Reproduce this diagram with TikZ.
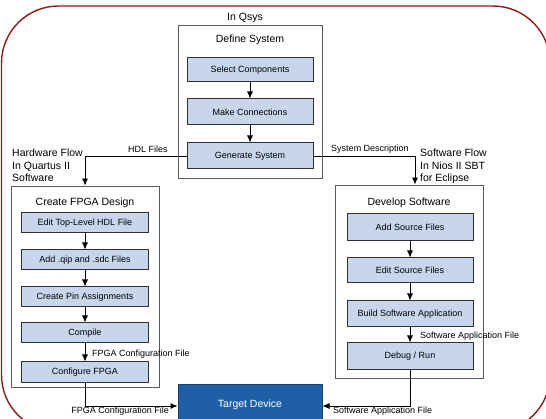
\documentclass[tikz,border=0pt]{standalone}
\usepackage{fontspec}
\setmainfont{Liberation Sans}
\usetikzlibrary{arrows.meta}
\definecolor{boxblue}{HTML}{C8D6EC}
\definecolor{boxline}{HTML}{2E2E2E}
\definecolor{outerline}{HTML}{5A5A5A}
\definecolor{framered}{HTML}{8E1B1B}
\definecolor{targetblue}{HTML}{1F5FA6}
\definecolor{targetline}{HTML}{174273}
\tikzset{
  inbox/.style={draw=boxline, fill=boxblue, line width=1pt, inner sep=0pt,
    minimum width=126pt, font=\fontsize{9}{11}\selectfont},
  outerbox/.style={draw=outerline, fill=white, line width=0.9pt, inner sep=0pt},
  head/.style={font=\fontsize{10.5}{12.5}\selectfont, inner sep=0pt},
  lbl/.style={font=\fontsize{9}{11}\selectfont, inner sep=0pt},
  side/.style={font=\fontsize{10.5}{12.8}\selectfont, inner sep=0pt, align=left, anchor=north west},
  arr/.style={draw=black, line width=0.8pt, -{Latex[length=7pt,width=6pt]}},
}
\begin{document}
\begin{tikzpicture}[x=1pt,y=-1pt]
\useasboundingbox (0,0) rectangle (546,419);
\fill[white] (0,0) rectangle (546,419);
\draw[framered, line width=1.4pt, rounded corners=57pt] (1.5,6) rectangle (550,432);

% outer boxes
\node[outerbox, minimum width=144pt, minimum height=153pt] (def) at (250,101.5) {};
\node[outerbox, minimum width=148pt, minimum height=201pt] (hw) at (85,286.5) {};
\node[outerbox, minimum width=148pt, minimum height=193pt] (sw) at (409,281.5) {};

% headings
\node[head] (qsys) at (245,18) {In Qsys};
\node[head] (defh) at (250,40) {Define System};
\node[head] (hwh) at (85,203) {Create FPGA Design};
\node[head] (swh) at (409,203) {Develop Software};

% Qsys boxes
\node[inbox, minimum height=24pt] (sel) at (250,70) {Select Components};
\node[inbox, minimum height=26pt] (make) at (250,112) {Make Connections};
\node[inbox, minimum height=26pt] (gen) at (250,156) {Generate System};

% hardware boxes
\node[inbox, minimum width=127pt, minimum height=20pt] (edit) at (85,223) {Edit Top-Level HDL File};
\node[inbox, minimum width=127pt, minimum height=20pt] (add) at (85,260) {Add .qip and .sdc Files};
\node[inbox, minimum width=127pt, minimum height=20pt] (pin) at (85,297) {Create Pin Assignments};
\node[inbox, minimum width=127pt, minimum height=20pt] (comp) at (85,333) {Compile};
\node[inbox, minimum width=127pt, minimum height=20pt] (conf) at (85,372) {Configure FPGA};

% software boxes
\node[inbox, minimum height=27pt] (asrc) at (410,227.5) {Add Source Files};
\node[inbox, minimum height=25pt] (esrc) at (410,270.5) {Edit Source Files};
\node[inbox, minimum height=26pt] (build) at (410,314) {Build Software Application};
\node[inbox, minimum height=27pt] (debug) at (410,356.5) {Debug / Run};

% target
\node[draw=targetline, fill=targetblue, line width=1pt, minimum width=144pt, minimum height=42pt,
  inner sep=0pt] (target) at (250,405) {};
\node[font=\fontsize{10.5}{12.5}\selectfont, text=white, inner sep=0pt] (tlabel) at (250,405) {Target Device};

% side labels
\node[side] (hwflow) at (12,148.5) {Hardware Flow\\In Quartus II\\Software};
\node[side] (swflow) at (420,148.5) {Software Flow\\In Nios II SBT\\for Eclipse};

% connectors
\draw[arr] (sel) -- (make);
\draw[arr] (make) -- (gen);
\draw[arr] (gen.west) -| (hw.north);
\coordinate (swin) at ([xshift=6pt]sw.north);
\draw[arr] (gen.east) -| (swin);
\draw[arr] (edit) -- (add);
\draw[arr] (add) -- (pin);
\draw[arr] (pin) -- (comp);
\draw[arr] (comp) -- (conf);
\draw[arr] (asrc) -- (esrc);
\draw[arr] (esrc) -- (build);
\draw[arr] (build) -- (debug);
\draw[arr] (conf.south) |- ([yshift=-1pt]target.west);
\draw[arr] (debug.south) |- ([yshift=-1pt]target.east);

% connector labels
\node[lbl] (hdl) at (148,149.5) {HDL Files};
\node[lbl] (sysd) at (370,149.5) {System Description};
\node[lbl, anchor=west] (fcf1) at (92,354) {FPGA Configuration File};
\node[lbl, anchor=west] (saf1) at (420,336.5) {Software Application File};
\node[lbl, anchor=east] (fcf2) at (169,411) {FPGA Configuration File};
\node[lbl, anchor=west] (saf2) at (333,411) {Software Application File};
\end{tikzpicture}
\end{document}
